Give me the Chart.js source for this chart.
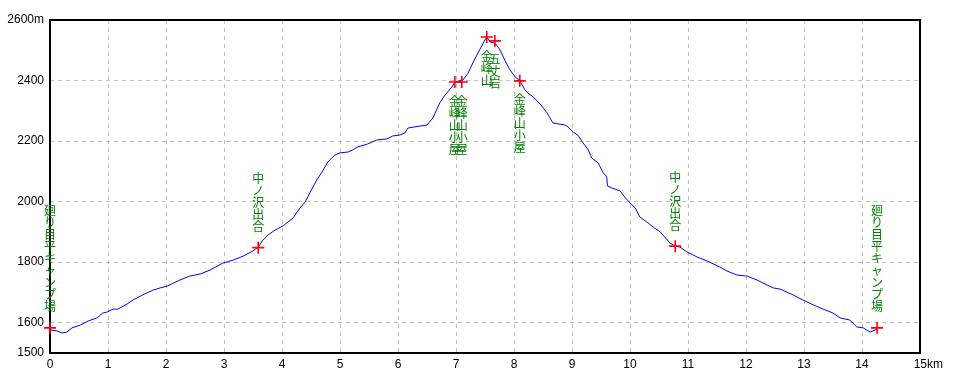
<!DOCTYPE html>
<html>
<head>
<meta charset="utf-8">
<script src="https://cdn.jsdelivr.net/npm/chart.js@4/dist/chart.umd.min.js"></script>
<style>
html,body{margin:0;padding:0;background:#fff;}
#wrap{width:960px;height:384px;position:relative;}
</style>
</head>
<body>
<div id="wrap"><canvas id="c" width="960" height="384"></canvas></div>
<script>
// Profile data (distance km, elevation m)
const distKm = [0.00,0.12,0.21,0.29,0.38,0.52,0.66,0.81,0.91,0.98,1.09,1.17,1.33,1.43,1.60,1.78,1.90,2.02,2.24,2.41,2.59,2.76,2.98,3.16,3.33,3.50,3.59,3.67,3.76,3.88,4.02,4.19,4.31,4.40,4.48,4.60,4.69,4.79,4.91,5.00,5.14,5.22,5.31,5.47,5.64,5.81,5.91,6.03,6.12,6.17,6.29,6.50,6.60,6.72,6.81,6.93,6.98,7.12,7.21,7.29,7.38,7.47,7.53,7.59,7.67,7.76,7.84,7.93,8.02,8.10,8.19,8.24,8.33,8.45,8.57,8.67,8.88,8.93,9.02,9.10,9.19,9.28,9.34,9.45,9.53,9.60,9.61,9.69,9.83,9.91,10.00,10.09,10.17,10.29,10.40,10.52,10.60,10.69,10.78,10.86,10.98,11.16,11.33,11.55,11.67,11.84,12.02,12.19,12.36,12.47,12.59,12.81,12.98,13.16,13.33,13.50,13.62,13.79,13.91,14.02,14.14,14.19,14.26];
const elevM = [1576,1573,1566,1569,1583,1592,1606,1616,1632,1635,1645,1645,1662,1675,1692,1708,1715,1721,1741,1754,1761,1774,1797,1807,1820,1837,1850,1873,1890,1906,1920,1946,1979,1999,2029,2072,2098,2131,2154,2161,2164,2171,2181,2190,2204,2207,2217,2220,2227,2243,2247,2253,2276,2326,2352,2379,2395,2402,2425,2458,2491,2524,2544,2527,2524,2501,2468,2435,2412,2399,2369,2359,2346,2323,2293,2260,2253,2247,2230,2220,2194,2171,2144,2128,2098,2081,2052,2045,2035,2015,1996,1979,1949,1933,1916,1900,1883,1863,1853,1850,1834,1817,1804,1784,1771,1758,1754,1741,1725,1715,1711,1692,1675,1659,1645,1632,1616,1609,1586,1583,1569,1573,1579];

// Waypoints
const markerKm   = [0, 3.59, 6.98, 7.10, 7.53, 7.67, 8.10, 10.78, 14.26];
const markerElev = [1583, 1848, 2395, 2395, 2544, 2531, 2399, 1853, 1583];
const markerNames = ["廻り目平キャンプ場","中ノ沢出合","金峰山小屋","金峰山小屋","金峰山","五丈岩","金峰山小屋","中ノ沢出合","廻り目平キャンプ場"];

// Axis ticks
const yTicks = [1500,1600,1800,2000,2200,2400,2600];
const xTicks = [0,1,2,3,4,5,6,7,8,9,10,11,12,13,14,15];

const profile = distKm.map((d,i)=>({x:d,y:elevM[i]}));
const markers = markerKm.map((d,i)=>({x:d,y:markerElev[i]}));

const tickFont = {family:"'Liberation Sans Narrow','Liberation Sans',sans-serif", size:12};

const framePlugin = {
  id:'frame',
  beforeDatasetsDraw(chart){
    const {ctx, chartArea:a} = chart;
    ctx.save();
    ctx.strokeStyle = '#000';
    ctx.lineWidth = 2;
    ctx.strokeRect(a.left, a.top, a.right - a.left, a.bottom - a.top);
    ctx.restore();
  }
};

const labelPlugin = {
  id:'vlabels',
  afterDatasetsDraw(chart){
    const {ctx} = chart;
    const xs = chart.scales.x, ys = chart.scales.y;
    ctx.save();
    ctx.fillStyle = '#008000';
    ctx.font = "12px 'Noto Sans CJK JP'";
    ctx.textAlign = 'center';
    ctx.textBaseline = 'top';
    const step = 12;
    markerNames.forEach((name,i)=>{
      const px = xs.getPixelForValue(markerKm[i]);
      const py = ys.getPixelForValue(markerElev[i]);
      const chars = Array.from(name);
      let top;
      if (markerElev[i] > 2300) top = py + 13;
      else top = py - 15 - chars.length*step;
      chars.forEach((ch,k)=>{ ctx.fillText(ch, px, top + k*step); });
    });
    ctx.restore();
  }
};

new Chart(document.getElementById('c'), {
  type:'line',
  data:{
    datasets:[
      {data:profile, borderColor:'#0000ff', borderWidth:1, pointRadius:0, tension:0, order:2},
      {data:markers, showLine:false, clip:false, pointStyle:'cross', pointRadius:6, pointBorderColor:'#ff0000', pointBorderWidth:1.6, borderColor:'#ff0000', order:1}
    ]
  },
  options:{
    responsive:false,
    animation:false,
    events:[],
    layout:{padding:{left:0,right:40,top:20,bottom:0}},
    plugins:{legend:{display:false}, tooltip:{enabled:false}},
    scales:{
      x:{
        type:'linear', min:0, max:15,
        afterBuildTicks(s){ s.ticks = xTicks.map(v=>({value:v})); },
        afterFit(s){ s.height = 31; },
        ticks:{
          color:'#000', font:tickFont, padding:4, maxRotation:0, autoSkip:false,
          callback:(v)=> v===15 ? '     15km' : String(v)
        },
        grid:{drawTicks:false, color:(c)=> (c.tick && (c.tick.value===0||c.tick.value===15)) ? 'rgba(0,0,0,0)' : '#c0c0c0'},
        border:{display:false, dash:[4,4]}
      },
      y:{
        type:'linear', min:1500, max:2600,
        afterBuildTicks(s){ s.ticks = yTicks.map(v=>({value:v})); },
        afterFit(s){ s.width = 50; },
        ticks:{
          color:'#000', font:tickFont, padding:6, autoSkip:false,
          callback:(v)=> v===2600 ? '2600m' : String(v)
        },
        grid:{drawTicks:false, color:(c)=> (c.tick && (c.tick.value===1500||c.tick.value===2600)) ? 'rgba(0,0,0,0)' : '#c0c0c0'},
        border:{display:false, dash:[4,4]}
      }
    }
  },
  plugins:[labelPlugin, framePlugin]
});
</script>
</body>
</html>
